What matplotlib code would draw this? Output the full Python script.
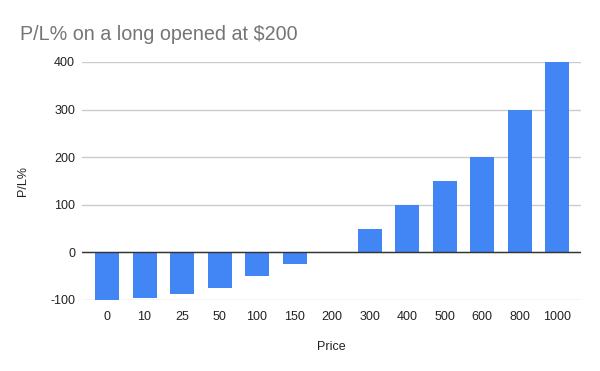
import matplotlib
matplotlib.use("Agg")
import matplotlib.pyplot as plt
import numpy as np

prices = ["0", "10", "25", "50", "100", "150", "200", "300", "400", "500", "600", "800", "1000"]
pl_pct = [-100, -95, -87.5, -75, -50, -25, 0, 50, 100, 150, 200, 300, 400]
y_ticks = [-100, 0, 100, 200, 300, 400]

plt.rcParams['font.family'] = ['Liberation Sans', 'DejaVu Sans']

fig = plt.figure(figsize=(6, 3.71), dpi=100)
W, H = 600, 371
ax = fig.add_axes([82 / W, 1 - 300 / H, (581 - 82) / W, (300 - 62) / H])

x = np.arange(len(prices))
ax.bar(x, pl_pct, width=0.64, color="#4285f4", zorder=3)

ax.set_xlim(-0.667, 12.64)
ax.set_ylim(-100, 400)
ax.set_yticks(y_ticks)
ax.set_yticklabels([str(v) for v in y_ticks])
ax.set_xticks(x)
ax.set_xticklabels(prices)

ax.grid(axis="y", color="#cccccc", linewidth=1, zorder=0)
ax.axhline(0, color="#333333", linewidth=1, zorder=4)
for s in ax.spines.values():
    s.set_visible(False)
ax.tick_params(axis="both", length=0, labelsize=9, colors="#222222")
ax.tick_params(axis="y", pad=5)
ax.tick_params(axis="x", pad=8)

ax.set_xlabel("Price", fontsize=9, color="#222222", labelpad=13)
ax.set_ylabel("P/L%", fontsize=9, color="#222222", labelpad=15)

fig.text(20 / W, 1 - 40 / H, "P/L% on a long opened at $200", fontsize=14.2,
         color="#757575", ha="left", va="baseline")

fig.savefig("out.png", dpi=100)
